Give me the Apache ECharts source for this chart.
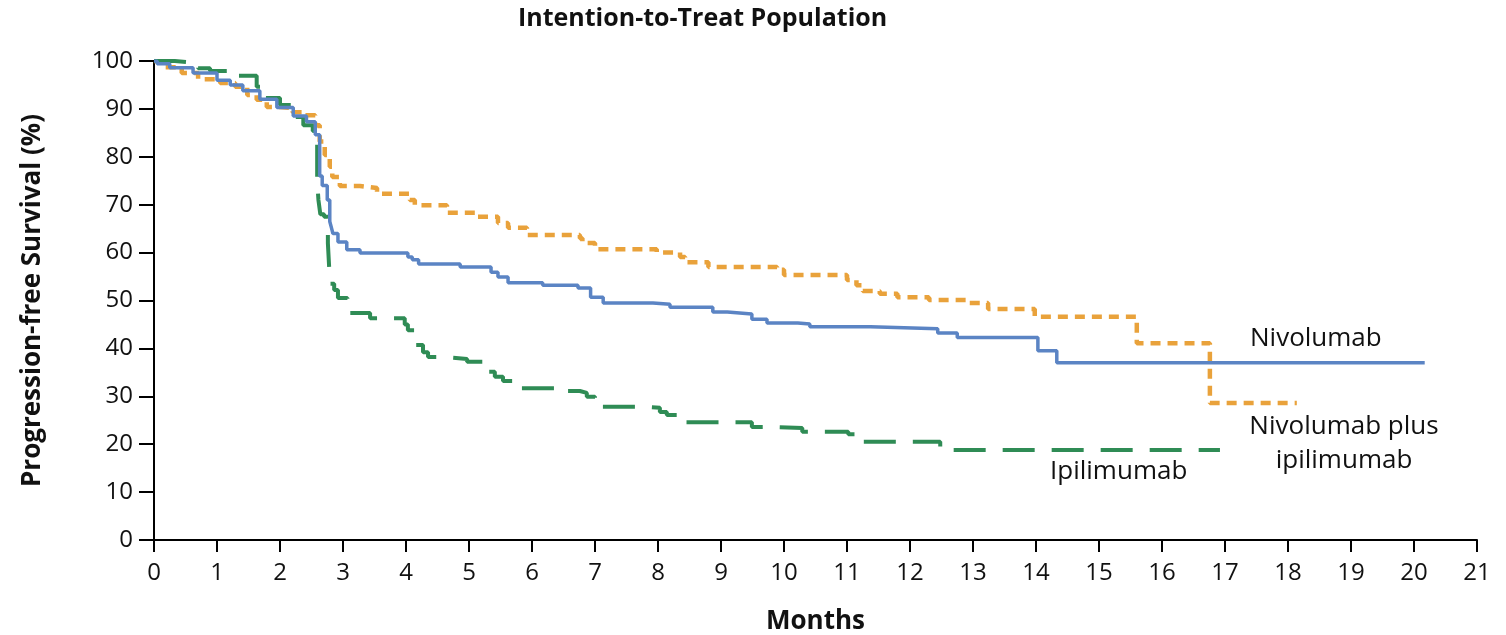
<!DOCTYPE html>
<html>
<head>
<meta charset="utf-8">
<script src="https://cdn.jsdelivr.net/npm/echarts@6/dist/echarts.min.js"></script>
<style>
html,body{margin:0;padding:0;background:#fff;}
#chart{width:1506px;height:635px;}
</style>
</head>
<body>
<div id="chart"></div>
<script>
// Kaplan-Meier step data: [month, survival %] (value holds until next point)
var nivolumab = [
  [0,100],[0.05,99.4],[0.25,98.6],[0.62,97.5],[1.0,96.0],[1.21,95.0],[1.41,93.8],[1.68,92.0],
  [1.95,90.3],[2.21,88.5],[2.42,87.3],[2.56,84.6],[2.63,76.0],[2.67,74.0],[2.75,71.0],[2.79,66.5],
  [2.82,65.0],[2.84,64.0],[2.92,62.2],[3.06,60.6],[3.27,59.9],[4.03,59.1],[4.1,58.5],[4.2,57.6],
  [4.86,57.0],[5.35,55.9],[5.46,54.9],[5.62,53.7],[6.17,53.2],[6.73,52.6],[6.93,50.7],[7.13,49.5],
  [7.92,49.2],[8.19,48.6],[8.87,47.6],[9.1,47.2],[9.49,46.1],[9.73,45.3],[10.22,45.1],[10.41,44.5],
  [11.37,44.1],[12.44,43.2],[12.75,42.3],[14.03,39.5],[14.33,37.0],[20.17,37.0]
];
var nivoPlusIpi = [
  [0,100],[0.03,99.8],[0.17,98.7],[0.44,97.5],[0.70,96.2],[1.05,95.4],[1.29,94.6],[1.48,92.9],
  [1.63,91.9],[1.79,90.4],[1.95,90.2],[2.2,89.3],[2.44,88.7],[2.56,86.6],[2.63,83.2],[2.71,80.4],
  [2.79,77.9],[2.83,75.8],[2.95,73.9],[3.27,73.5],[3.54,72.3],[4.06,71.0],[4.14,69.9],[4.65,68.3],
  [5.1,67.5],[5.46,66.2],[5.62,65.2],[5.92,63.7],[6.76,63.0],[6.8,62.0],[7.0,60.7],[7.98,60.0],
  [8.35,59.1],[8.43,58.0],[8.8,57.0],[9.89,56.4],[10.0,55.3],[11.0,54.3],[11.15,53.2],[11.25,52.0],
  [11.52,51.4],[11.8,50.7],[12.3,50.1],[12.9,49.5],[13.24,48.2],[13.98,46.6],[15.6,41.1],
  [16.76,28.6],[18.14,28.6]
];
var ipilimumab = [
  [0,100],[0.33,99.6],[0.7,98.5],[0.89,97.9],[1.3,96.9],[1.63,94.6],[1.75,92.3],[2.0,90.8],
  [2.2,88.3],[2.37,86.6],[2.52,85.4],[2.59,75.0],[2.61,71.0],[2.64,68.0],[2.70,67.5],[2.76,62.0],
  [2.78,57.0],[2.80,53.5],[2.86,52.2],[2.92,50.5],[3.07,47.4],[3.43,46.3],[3.98,45.0],[4.03,43.8],
  [4.15,40.7],[4.27,39.2],[4.35,38.2],[4.6,37.8],[4.97,37.2],[5.25,35.1],[5.41,34.1],[5.54,33.2],
  [5.75,31.7],[6.5,31.1],[6.76,30.7],[6.87,29.9],[7.0,27.8],[7.8,27.6],[8.03,26.7],[8.14,26.1],
  [8.3,24.6],[9.49,23.6],[9.8,23.4],[10.29,22.6],[11.02,22.1],[11.25,20.5],[12.48,19.4],
  [12.6,18.8],[16.92,18.8]
];
var xTicks = [0,1,2,3,4,5,6,7,8,9,10,11,12,13,14,15,16,17,18,19,20,21];
var yTicks = [0,10,20,30,40,50,60,70,80,90,100];

var FONT = '"Open Sans", "DejaVu Sans", sans-serif';
var TXT = '#111';
var chart = echarts.init(document.getElementById('chart'), null, {renderer:'canvas'});
chart.setOption({
  backgroundColor:'#fff',
  animation:false,
  grid:{left:154, right:29, top:61, bottom:95, containLabel:false, outerBoundsMode:'none'},
  xAxis:{
    type:'value', min:xTicks[0], max:xTicks[xTicks.length-1], interval:1,
    name:'Months', nameLocation:'middle', nameGap:69,
    nameTextStyle:{fontFamily:FONT, fontSize:26, fontWeight:'bold', color:TXT},
    axisLine:{show:true, onZero:false, lineStyle:{color:'#000', width:2}},
    axisTick:{show:true, inside:false, length:12, lineStyle:{color:'#000', width:2}},
    axisLabel:{fontFamily:FONT, fontSize:24, color:TXT, margin:21, inside:false},
    splitLine:{show:false}
  },
  yAxis:{
    type:'value', min:yTicks[0], max:yTicks[yTicks.length-1], interval:10,
    name:'Progression-free Survival (%)', nameLocation:'middle', nameGap:108,
    nameTextStyle:{fontFamily:FONT, fontSize:26, fontWeight:'bold', color:TXT},
    axisLine:{show:true, onZero:false, lineStyle:{color:'#000', width:2}},
    axisTick:{show:true, inside:false, length:15, lineStyle:{color:'#000', width:2}},
    axisLabel:{fontFamily:FONT, fontSize:24, color:TXT, margin:21, inside:false},
    splitLine:{show:false}
  },
  series:[
    {name:'Nivolumab plus ipilimumab', type:'line', step:'end', data:nivoPlusIpi, showSymbol:false,
     lineStyle:{color:'#E9A23B', width:4.5, type:[10,7]}, z:2},
    {name:'Ipilimumab', type:'line', step:'end', data:ipilimumab, showSymbol:false,
     lineStyle:{color:'#2F8C55', width:4, type:[32,17]}, z:3},
    {name:'Nivolumab', type:'line', step:'end', data:nivolumab, showSymbol:false,
     lineStyle:{color:'#5B84C4', width:3.5, type:'solid'}, z:4}
  ],
  graphic:[
    {type:'text', left:518, top:6, style:{text:'Intention-to-Treat Population', font:'bold 25px '+FONT, fill:TXT}},
    {type:'text', left:1250, top:326, style:{text:'Nivolumab', font:'26px '+FONT, fill:TXT}},
    {type:'text', x:1344, y:410, style:{text:'Nivolumab plus\nipilimumab', font:'26px '+FONT, fill:TXT, align:'center', lineHeight:34}},
    {type:'text', left:1050, top:459, style:{text:'Ipilimumab', font:'26px '+FONT, fill:TXT}}
  ]
});
</script>
</body>
</html>
